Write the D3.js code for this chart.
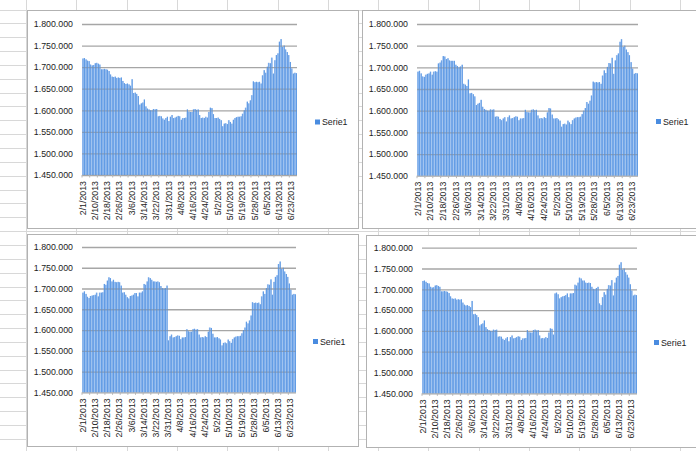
<!DOCTYPE html>
<html>
<head>
<meta charset="utf-8">
<script src="https://cdn.jsdelivr.net/npm/d3@7"></script>
<style>
  body { margin: 0; background: #fff; }
  svg { display: block; }
</style>
</head>
<body>
<svg id="sheet" width="696" height="451"></svg>
<script>
// category axis: one label every 8 days
const tickLabels = ['2/1/2013', '2/10/2013', '2/18/2013', '2/26/2013', '3/6/2013', '3/14/2013',
  '3/22/2013', '3/31/2013', '4/8/2013', '4/16/2013', '4/24/2013', '5/2/2013', '5/10/2013',
  '5/19/2013', '5/28/2013', '6/5/2013', '6/13/2013', '6/23/2013']
const labelStep = 8

const yTickValues = [1450, 1500, 1550, 1600, 1650, 1700, 1750, 1800] // thousands

// Serie1, top-left chart (thousands)
const serie1 = [
  1720, 1721, 1718, 1715, 1714, 1706, 1704, 1705, 1709, 1710, 1708, 1706, 1695, 1695, 1696, 1695,
  1694, 1691, 1683, 1678, 1677, 1678, 1675, 1676, 1675, 1676, 1668, 1663, 1661, 1662, 1660, 1657,
  1672, 1640, 1641, 1638, 1633, 1613, 1616, 1618, 1625, 1609, 1604, 1602, 1600, 1600, 1603, 1602,
  1603, 1586, 1587, 1586, 1581, 1578, 1582, 1585, 1575, 1585, 1589, 1582, 1583, 1585, 1587, 1586,
  1578, 1582, 1582, 1583, 1602, 1597, 1596, 1596, 1602, 1603, 1601, 1602, 1589, 1582, 1583, 1582,
  1585, 1583, 1596, 1606, 1605, 1591, 1582, 1582, 1583, 1580, 1577, 1563, 1569, 1570, 1568, 1577,
  1573, 1569, 1578, 1582, 1584, 1585, 1585, 1586, 1592, 1600, 1606, 1620, 1616, 1623, 1635, 1667,
  1665, 1666, 1665, 1666, 1662, 1681, 1693, 1687, 1701, 1710, 1709, 1722, 1685, 1716, 1728, 1732,
  1759, 1765, 1747, 1750, 1741, 1735, 1728, 1712, 1697, 1685, 1687, 1686
]

// top-right chart: different first weeks, then same as serie1
const chart2Head = [
  1690, 1692, 1686, 1679, 1678, 1683, 1685, 1686, 1690, 1683, 1690, 1691, 1690, 1709, 1711, 1716,
  1726, 1725, 1719, 1721, 1716, 1715, 1715, 1715, 1706, 1703, 1700, 1702, 1706
]

// bottom-left chart: different February and March, then same as serie1
const chart3Head = [
  1690, 1693, 1687, 1680, 1677, 1682, 1683, 1684, 1685, 1690, 1681, 1690, 1690, 1691, 1711, 1709,
  1719, 1727, 1725, 1717, 1721, 1716, 1715, 1716, 1715, 1707, 1690, 1691, 1685, 1679, 1676, 1682,
  1683, 1685, 1689, 1689, 1681, 1690, 1690, 1693, 1711, 1709, 1717, 1727, 1725, 1721, 1717, 1717,
  1716, 1717, 1715, 1706, 1701, 1700, 1701, 1707
]

// bottom-right chart: May block replaced, start index 86
const chart4Block = [
  1690, 1692, 1688, 1678, 1681, 1683, 1684, 1686, 1690, 1681, 1690, 1690, 1691, 1711, 1709, 1716,
  1728, 1726, 1721, 1721, 1716, 1715, 1716, 1715, 1706, 1701, 1700, 1703, 1706
]
const chart4Start = 86

const chart2Series = chart2Head.concat(serie1.slice(chart2Head.length))
const chart3Series = chart3Head.concat(serie1.slice(chart3Head.length))
const chart4Series = serie1.slice(0, chart4Start)
  .concat(chart4Block, serie1.slice(chart4Start + chart4Block.length))

const charts = [
  { series: serie1,       box: [27.5, 10.5, 331, 218],  plot: [82, 297, 24, 175],      legend: [315, 122] },
  { series: chart2Series, box: [362.5, 10.5, 345, 218], plot: [417, 638, 24, 175.7],   legend: [656, 121.5] },
  { series: chart3Series, box: [27.5, 234.5, 331, 212], plot: [82, 296, 247, 392.3],   legend: [313, 341.5] },
  { series: chart4Series, box: [366.5, 235.5, 345, 212], plot: [422, 637, 247.7, 393.3], legend: [654, 342.5] }
]

const fontFamily = '"Liberation Sans", Arial, sans-serif'
const fontSize = 8.8
const textColor = '#1c1c1c'
const barLight = '#a9c9f2'
const barDark = '#4a8ce0'
const gridColor = '#a6a6a6'

const locale = d3.formatLocale({ decimal: ',', thousands: '.', grouping: [3], currency: ['', ''] })
const fmt = locale.format(',')

const svg = d3.select('#sheet')

// spreadsheet grid behind the charts
const sheet = svg.append('g').attr('stroke', '#d8d8d8').attr('stroke-width', 1)
d3.range(0, 14).forEach(k => {
  const gx = Math.round(26 + k * 50.3) + 0.5
  sheet.append('line').attr('x1', gx).attr('x2', gx).attr('y1', 0).attr('y2', 451)
})
d3.range(0, 33).forEach(k => {
  const gy = Math.round(9.5 + k * 13.85) + 0.5
  sheet.append('line').attr('x1', 0).attr('x2', 696).attr('y1', gy).attr('y2', gy)
})

charts.forEach(drawChart)

function drawChart(cfg) {
  const [bx, by, bw, bh] = cfg.box
  const [left, right, top, bottom] = cfg.plot
  const n = cfg.series.length
  const g = svg.append('g')

  g.append('rect')
    .attr('x', bx).attr('y', by)
    .attr('width', bw).attr('height', bh)
    .attr('fill', '#fff')
    .attr('stroke', '#b2b2b2')

  const x = d3.scaleBand().domain(d3.range(n)).range([left, right]).padding(0)
  const y = d3.scaleLinear().domain([1450, 1800]).range([bottom, top])
  const bwid = x.bandwidth()

  // light body of the bars
  g.append('g').selectAll('rect')
    .data(cfg.series)
    .join('rect')
    .attr('x', (d, i) => x(i))
    .attr('y', d => y(d))
    .attr('width', bwid)
    .attr('height', d => bottom - y(d))
    .attr('fill', barLight)

  // gridlines
  g.append('g')
    .attr('transform', `translate(${left},0)`)
    .call(d3.axisLeft(y).tickValues(yTickValues).tickSize(-(right - left)).tickFormat(''))
    .call(a => a.select('.domain').remove())
    .call(a => a.selectAll('.tick line').attr('stroke', gridColor).attr('stroke-width', 1.3))

  // dark edge of each bar
  g.append('g').selectAll('rect')
    .data(cfg.series)
    .join('rect')
    .attr('x', (d, i) => x(i) + bwid * 0.45)
    .attr('y', d => y(d))
    .attr('width', 0.75)
    .attr('height', d => bottom - y(d))
    .attr('fill', barDark)

  // small ticks under the category axis
  g.append('g')
    .attr('transform', `translate(0,${bottom})`)
    .call(d3.axisBottom(x).tickValues(d3.range(0, n, 5)).tickSize(2.5).tickFormat(''))
    .call(a => a.select('.domain').remove())
    .call(a => a.selectAll('.tick line').attr('stroke', '#b5b5b5').attr('transform', `translate(${-bwid / 2},0)`))

  // value labels
  g.append('g')
    .attr('transform', `translate(${left},0)`)
    .call(d3.axisLeft(y).tickValues(yTickValues).tickSize(0).tickPadding(9).tickFormat(v => fmt(v * 1000)))
    .attr('font-family', fontFamily)
    .attr('font-size', fontSize)
    .call(a => a.select('.domain').remove())
    .call(a => a.selectAll('text').attr('fill', textColor))

  // date labels, rotated
  g.append('g')
    .attr('transform', `translate(0,${bottom})`)
    .call(d3.axisBottom(x).tickValues(d3.range(0, n, labelStep)).tickSize(0)
      .tickFormat(i => tickLabels[i / labelStep]))
    .attr('font-family', fontFamily)
    .attr('font-size', fontSize)
    .call(a => a.select('.domain').remove())
    .call(a => a.selectAll('text')
      .attr('fill', textColor)
      .attr('transform', 'rotate(-90)')
      .attr('x', -6)
      .attr('y', 0)
      .attr('dy', '0.32em')
      .attr('text-anchor', 'end'))

  // legend
  const [lx, ly] = cfg.legend
  g.append('rect')
    .attr('x', lx).attr('y', ly - 2.5)
    .attr('width', 5).attr('height', 5)
    .attr('fill', barDark)
  g.append('text')
    .attr('x', lx + 7).attr('y', ly)
    .attr('dy', '0.35em')
    .attr('font-family', fontFamily)
    .attr('font-size', fontSize)
    .attr('fill', textColor)
    .text('Serie1')
}
</script>
</body>
</html>
